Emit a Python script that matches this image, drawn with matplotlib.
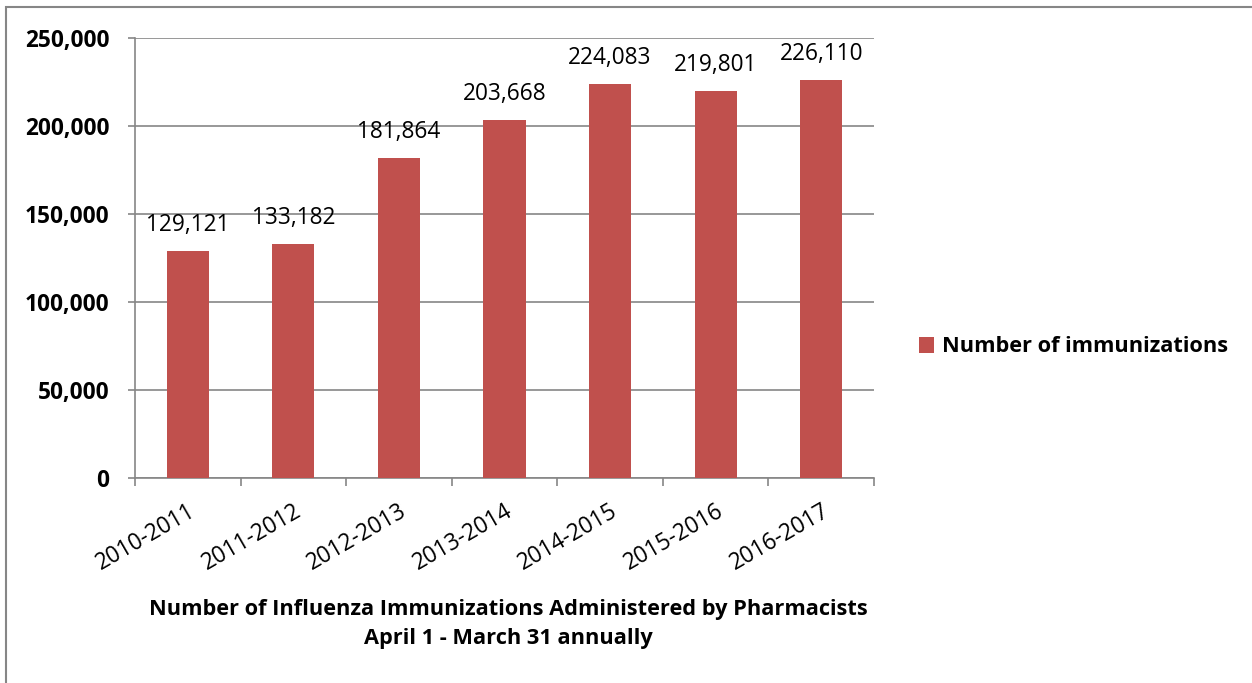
import matplotlib
matplotlib.use("Agg")
import matplotlib.pyplot as plt
from matplotlib.patches import Rectangle
from matplotlib.ticker import FuncFormatter, MultipleLocator

seasons = ["2010-2011", "2011-2012", "2012-2013", "2013-2014",
           "2014-2015", "2015-2016", "2016-2017"]
immunizations = [129121, 133182, 181864, 203668, 224083, 219801, 226110]

BAR = "#C0504D"
GRID = "#868686"
FONT = "Open Sans"

plt.rcParams["font.family"] = [FONT, "DejaVu Sans"]

fig = plt.figure(figsize=(12.52, 6.83), dpi=100)
ax = fig.add_axes([135 / 1252, 1 - 478 / 683, 739 / 1252, 440 / 683])

x = list(range(len(seasons)))
bars = ax.bar(x, immunizations, width=0.4, color=BAR, zorder=3,
              label="Number of immunizations")

# value labels above each bar
for xi, v in zip(x, immunizations):
    ax.annotate(f"{v:,}", (xi, v), xytext=(0, 10), textcoords="offset points",
                ha="center", va="bottom", fontsize=16.3)

ax.set_xlim(-0.5, len(seasons) - 0.5)
ax.set_ylim(0, 250000)
ax.yaxis.set_major_locator(MultipleLocator(50000))
ax.yaxis.set_major_formatter(FuncFormatter(lambda v, p: f"{int(v):,}"))
ax.yaxis.grid(True, color=GRID, lw=1.2, zorder=0)

ax.set_xticks(x)
ax.set_xticklabels(seasons, rotation=30, ha="right", rotation_mode="anchor",
                   fontsize=16.3)
ax.set_xticks([i - 0.5 for i in range(len(seasons) + 1)], minor=True)
ax.tick_params(axis="x", which="major", length=0, pad=15)
ax.tick_params(axis="x", which="minor", length=6, width=1.2, color=GRID)
ax.tick_params(axis="y", length=5, width=1.2, color=GRID, pad=13.5)
for lab in ax.get_yticklabels():
    lab.set_fontweight("bold")
    lab.set_fontsize(16.3)

for sp in ["top", "right"]:
    ax.spines[sp].set_visible(False)
for sp in ["left", "bottom"]:
    ax.spines[sp].set_color(GRID)
    ax.spines[sp].set_linewidth(1.2)

fig.text(508 / 1252, 1 - 624 / 683,
         "Number of Influenza Immunizations Administered by Pharmacists\nApril 1 - March 31 annually",
         ha="center", va="center", fontsize=15.7, fontweight="bold",
         linespacing=1.5)

leg = fig.legend(handles=[bars], labels=["Number of immunizations"],
                 loc="center left", bbox_to_anchor=(899 / 1252, 1 - 347 / 683),
                 frameon=False, handlelength=0.7, handleheight=0.7,
                 handletextpad=0.35, prop={"weight": "bold", "size": 15.7})

fig.patches.append(Rectangle((6 / 1252, -0.1), 1.2, (683 - 7) / 683 + 0.1,
                             transform=fig.transFigure, fill=False,
                             edgecolor=GRID, lw=1.5, clip_on=False))

fig.savefig("out.png", dpi=100, facecolor="white")
